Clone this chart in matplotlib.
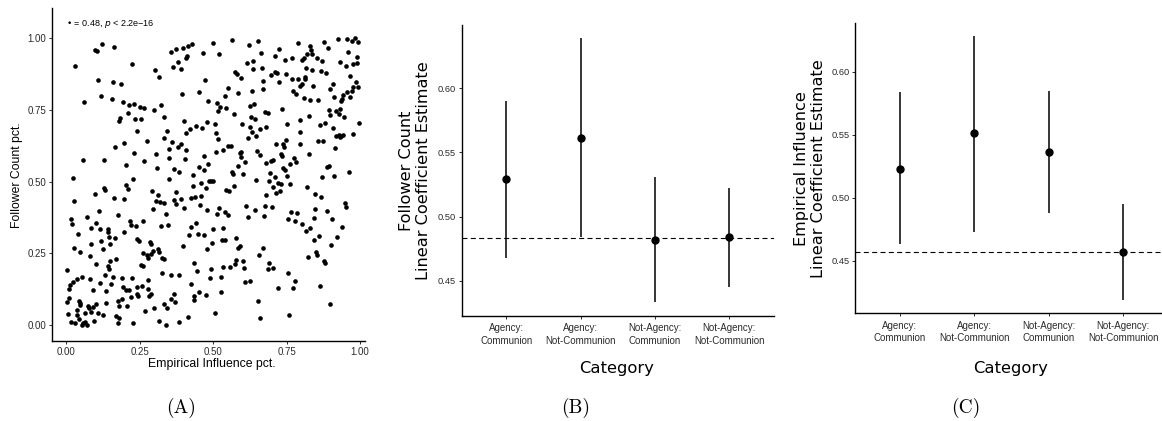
import numpy as np
import matplotlib
matplotlib.use("Agg")
import matplotlib.pyplot as plt

# ---- panel A: scatter of percentiles (by band) ----
top_band = [
    (0.121, 0.980), (0.096, 0.959), (0.104, 0.956), (0.161, 0.971), (0.031, 0.904), (0.223, 0.911),
    (0.107, 0.854), (0.158, 0.847), (0.186, 0.841), (0.059, 0.777), (0.117, 0.800), (0.155, 0.789),
    (0.193, 0.779), (0.214, 0.769), (0.231, 0.770), (0.251, 0.761), (0.266, 0.756), (0.209, 0.739),
    (0.184, 0.721), (0.178, 0.710), (0.235, 0.720), (0.253, 0.717), (0.299, 0.749), (0.323, 0.766),
    (0.334, 0.725), (0.303, 0.888), (0.316, 0.866), (0.356, 0.954), (0.373, 0.962), (0.397, 0.968),
    (0.414, 0.974), (0.427, 0.981), (0.412, 0.937), (0.408, 0.931), (0.381, 0.917), (0.362, 0.899),
    (0.391, 0.892), (0.464, 0.948), (0.473, 0.855), (0.453, 0.812), (0.393, 0.805), (0.482, 0.782),
    (0.400, 0.712), (0.480, 0.707),
    (0.501, 0.984), (0.564, 0.995), (0.621, 0.977), (0.653, 0.990), (0.520, 0.947), (0.663, 0.950),
    (0.513, 0.774), (0.524, 0.760), (0.516, 0.746), (0.543, 0.757), (0.575, 0.883), (0.582, 0.875),
    (0.593, 0.863), (0.616, 0.913), (0.636, 0.920), (0.637, 0.892), (0.666, 0.897), (0.671, 0.852),
    (0.668, 0.825), (0.632, 0.818), (0.583, 0.809), (0.551, 0.827), (0.539, 0.798), (0.624, 0.763),
    (0.639, 0.771), (0.571, 0.735), (0.629, 0.727), (0.642, 0.718), (0.675, 0.742), (0.686, 0.738),
    (0.735, 0.753), (0.506, 0.702), (0.697, 0.871), (0.709, 0.882), (0.718, 0.880), (0.723, 0.847),
    (0.711, 0.940), (0.724, 0.963), (0.745, 0.925), (0.768, 0.930), (0.789, 0.983), (0.749, 0.874),
    (0.770, 0.859), (0.789, 0.858), (0.811, 0.866), (0.813, 0.860), (0.802, 0.841), (0.797, 0.834),
    (0.772, 0.817), (0.782, 0.807), (0.810, 0.792), (0.831, 0.786), (0.857, 0.784), (0.841, 0.834),
    (0.817, 0.895), (0.837, 0.889), (0.867, 0.885), (0.883, 0.878), (0.802, 0.925), (0.808, 0.931),
    (0.820, 0.944), (0.838, 0.945), (0.833, 0.961), (0.829, 0.974), (0.854, 0.932), (0.872, 0.921),
    (0.879, 0.987), (0.891, 0.966), (0.924, 0.997), (0.955, 0.998), (0.973, 0.992), (0.984, 1.000),
    (0.993, 0.989), (0.959, 0.952), (0.991, 0.935), (0.932, 0.916), (0.952, 0.902), (0.977, 0.909),
    (0.989, 0.913), (0.965, 0.869), (0.988, 0.849), (0.992, 0.832), (0.975, 0.830), (0.972, 0.818),
    (0.956, 0.813), (0.967, 0.797), (0.943, 0.804), (0.939, 0.790), (0.934, 0.781), (0.909, 0.841),
    (0.897, 0.823), (0.911, 0.795), (0.895, 0.750), (0.899, 0.732), (0.918, 0.746), (0.932, 0.754),
    (0.927, 0.736), (0.944, 0.725), (0.880, 0.704), (0.825, 0.729), (0.797, 0.714), (0.996, 0.706),
    (0.752, 0.702),
]

mid_band = [
    (0.241, 0.678), (0.167, 0.622), (0.196, 0.636), (0.274, 0.641), (0.231, 0.601), (0.057, 0.576),
    (0.129, 0.577), (0.202, 0.558), (0.264, 0.571), (0.022, 0.513), (0.127, 0.478), (0.133, 0.470),
    (0.096, 0.457), (0.204, 0.490), (0.211, 0.475), (0.227, 0.511), (0.163, 0.443), (0.195, 0.440),
    (0.027, 0.433), (0.017, 0.369), (0.019, 0.353), (0.071, 0.376), (0.111, 0.396), (0.102, 0.357),
    (0.085, 0.340), (0.116, 0.335), (0.142, 0.336), (0.175, 0.382), (0.217, 0.364), (0.221, 0.349),
    (0.236, 0.347), (0.262, 0.362), (0.293, 0.469), (0.312, 0.454), (0.306, 0.433), (0.320, 0.430),
    (0.331, 0.427), (0.296, 0.406), (0.340, 0.386), (0.346, 0.349), (0.304, 0.596), (0.308, 0.547),
    (0.332, 0.654), (0.344, 0.677), (0.359, 0.638), (0.379, 0.620), (0.389, 0.632), (0.351, 0.614),
    (0.350, 0.582), (0.365, 0.543), (0.385, 0.533), (0.349, 0.508), (0.373, 0.463), (0.367, 0.436),
    (0.389, 0.439), (0.375, 0.422), (0.400, 0.408), (0.406, 0.670), (0.421, 0.683), (0.443, 0.693),
    (0.461, 0.686), (0.408, 0.610), (0.404, 0.578), (0.430, 0.524), (0.450, 0.550), (0.467, 0.539),
    (0.484, 0.560), (0.468, 0.588), (0.431, 0.486), (0.460, 0.496), (0.485, 0.503), (0.474, 0.477),
    (0.423, 0.443), (0.439, 0.448), (0.457, 0.449), (0.455, 0.418), (0.480, 0.400), (0.441, 0.357),
    (0.425, 0.343),
    (0.598, 0.702), (0.626, 0.692), (0.658, 0.683), (0.681, 0.690), (0.633, 0.675), (0.645, 0.660),
    (0.617, 0.652), (0.510, 0.669), (0.516, 0.649), (0.549, 0.625), (0.559, 0.625), (0.535, 0.612),
    (0.508, 0.604), (0.595, 0.605), (0.591, 0.599), (0.596, 0.586), (0.609, 0.569), (0.586, 0.556),
    (0.564, 0.533), (0.567, 0.526), (0.603, 0.528), (0.494, 0.503), (0.500, 0.504), (0.545, 0.471),
    (0.555, 0.468), (0.570, 0.486), (0.646, 0.507), (0.650, 0.607), (0.658, 0.592), (0.679, 0.564),
    (0.696, 0.571), (0.703, 0.576), (0.715, 0.632), (0.738, 0.630), (0.740, 0.620), (0.747, 0.647),
    (0.730, 0.596), (0.736, 0.591), (0.794, 0.673), (0.795, 0.631), (0.827, 0.598), (0.774, 0.584),
    (0.782, 0.567), (0.762, 0.563), (0.737, 0.546), (0.743, 0.540), (0.753, 0.521), (0.692, 0.531),
    (0.709, 0.515), (0.690, 0.502), (0.721, 0.496), (0.732, 0.493), (0.705, 0.483), (0.726, 0.467),
    (0.713, 0.462), (0.761, 0.492), (0.681, 0.453), (0.819, 0.481), (0.847, 0.457), (0.867, 0.448),
    (0.864, 0.697), (0.907, 0.688), (0.917, 0.661), (0.929, 0.663), (0.936, 0.660), (0.942, 0.664),
    (0.932, 0.655), (0.977, 0.667), (0.858, 0.643), (0.874, 0.643), (0.915, 0.617), (0.887, 0.550),
    (0.895, 0.555), (0.870, 0.515), (0.913, 0.520), (0.963, 0.534), (0.948, 0.427), (0.951, 0.411),
    (0.889, 0.399), (0.904, 0.371), (0.848, 0.404), (0.845, 0.373), (0.938, 0.343), (0.831, 0.340),
    (0.803, 0.354), (0.787, 0.390), (0.765, 0.394), (0.754, 0.370), (0.777, 0.364), (0.675, 0.415),
    (0.700, 0.412), (0.644, 0.402), (0.613, 0.416), (0.618, 0.376), (0.672, 0.379), (0.519, 0.409),
    (0.541, 0.393), (0.552, 0.382), (0.513, 0.386), (0.498, 0.336), (0.532, 0.339),
]

low_band = [
    (0.141, 0.323), (0.041, 0.318), (0.197, 0.326), (0.144, 0.306), (0.164, 0.302), (0.118, 0.292),
    (0.149, 0.282), (0.085, 0.282), (0.026, 0.268), (0.048, 0.255), (0.124, 0.265), (0.079, 0.240),
    (0.170, 0.231), (0.101, 0.212), (0.141, 0.207), (0.149, 0.222), (0.145, 0.195), (0.133, 0.175),
    (0.160, 0.169), (0.116, 0.148), (0.079, 0.159), (0.053, 0.169), (0.037, 0.159), (0.023, 0.151),
    (0.014, 0.140), (0.009, 0.125), (0.003, 0.192), (0.090, 0.121), (0.241, 0.300), (0.247, 0.293),
    (0.285, 0.289), (0.287, 0.282), (0.261, 0.251), (0.274, 0.244), (0.278, 0.235), (0.294, 0.258),
    (0.289, 0.249), (0.311, 0.265), (0.317, 0.256), (0.325, 0.233), (0.334, 0.229), (0.253, 0.210),
    (0.260, 0.205), (0.323, 0.346), (0.417, 0.314), (0.448, 0.317), (0.468, 0.314), (0.479, 0.264),
    (0.396, 0.275), (0.435, 0.215), (0.446, 0.187), (0.327, 0.183), (0.358, 0.175), (0.384, 0.175),
    (0.189, 0.163), (0.224, 0.163), (0.277, 0.157), (0.192, 0.132), (0.203, 0.121), (0.213, 0.121),
    (0.239, 0.132), (0.256, 0.135), (0.278, 0.127), (0.288, 0.109), (0.281, 0.100), (0.219, 0.098),
    (0.188, 0.091), (0.151, 0.143), (0.135, 0.119), (0.176, 0.085), (0.241, 0.107), (0.244, 0.101),
    (0.136, 0.076), (0.178, 0.065), (0.206, 0.066), (0.268, 0.048), (0.299, 0.058), (0.334, 0.074),
    (0.344, 0.058), (0.355, 0.090), (0.365, 0.109), (0.370, 0.079), (0.425, 0.143), (0.433, 0.100),
    (0.451, 0.116), (0.436, 0.087), (0.475, 0.106), (0.488, 0.163), (0.002, 0.079), (0.008, 0.093),
    (0.042, 0.084), (0.048, 0.078), (0.045, 0.070), (0.035, 0.052), (0.072, 0.067), (0.078, 0.058),
    (0.091, 0.064), (0.101, 0.073), (0.065, 0.041), (0.085, 0.044), (0.108, 0.043), (0.126, 0.035),
    (0.006, 0.039), (0.037, 0.035), (0.017, 0.012), (0.030, 0.007), (0.044, 0.021), (0.057, 0.008),
    (0.065, 0.012), (0.053, 0.000), (0.069, 0.000), (0.094, 0.014), (0.169, 0.032), (0.179, 0.025),
    (0.177, 0.006), (0.228, 0.006), (0.317, 0.014), (0.338, 0.000), (0.383, 0.012), (0.415, 0.029),
    (0.495, 0.286), (0.530, 0.295), (0.539, 0.296), (0.578, 0.305), (0.590, 0.276), (0.586, 0.270),
    (0.579, 0.228), (0.574, 0.214), (0.557, 0.201), (0.534, 0.202), (0.492, 0.194), (0.526, 0.169),
    (0.602, 0.222), (0.605, 0.197), (0.609, 0.149), (0.627, 0.154), (0.655, 0.243), (0.669, 0.270),
    (0.689, 0.217), (0.685, 0.195), (0.704, 0.198), (0.720, 0.130), (0.756, 0.183), (0.779, 0.155),
    (0.771, 0.129), (0.651, 0.084), (0.661, 0.023), (0.759, 0.034), (0.527, 0.114), (0.506, 0.043),
    (0.815, 0.329), (0.844, 0.297), (0.861, 0.311), (0.822, 0.236), (0.849, 0.254), (0.853, 0.243),
    (0.876, 0.222), (0.881, 0.217), (0.901, 0.278), (0.921, 0.308), (0.863, 0.135), (0.898, 0.072),
]

cor_r = "0.48"
cor_p = "2.2e\u221216"

# ---- panels B and C: coefficient estimates with intervals ----
categories = ["Agency:\nCommunion", "Agency:\nNot-Communion",
              "Not-Agency:\nCommunion", "Not-Agency:\nNot-Communion"]

fc_est = [0.529, 0.561, 0.482, 0.484]
fc_lo = [0.468, 0.484, 0.433, 0.445]
fc_hi = [0.590, 0.639, 0.531, 0.522]
fc_ref = 0.4835

ei_est = [0.523, 0.551, 0.536, 0.457]
ei_lo = [0.463, 0.473, 0.488, 0.419]
ei_hi = [0.584, 0.628, 0.585, 0.495]
ei_ref = 0.457

W, H = 1162, 421
TICK_COL = "#2b2b2b"

plt.rcParams['font.family'] = ['Liberation Sans', 'DejaVu Sans']
fig = plt.figure(figsize=(W / 100, H / 100), dpi=100)


def px_box(l, t, r, b):
    return [l / W, 1 - b / H, (r - l) / W, (b - t) / H]


def classic(ax):
    for s in ("top", "right"):
        ax.spines[s].set_visible(False)
    for s in ("left", "bottom"):
        ax.spines[s].set_linewidth(1.0)
    ax.tick_params(length=2.5, width=0.7, color=TICK_COL, labelcolor=TICK_COL,
                   labelsize=6.7, pad=1.5)


# panel A
axA = fig.add_axes(px_box(51.7, 8.3, 365, 341))
pts = np.array(top_band + mid_band + low_band)
axA.scatter(pts[:, 0], pts[:, 1], s=11, color="black", linewidths=0)
axA.set_xlim(-0.05, 1.017)
axA.set_ylim(-0.056, 1.105)
ticks = [0, 0.25, 0.5, 0.75, 1.0]
axA.set_xticks(ticks, ["%.2f" % t for t in ticks])
axA.set_yticks(ticks, ["%.2f" % t for t in ticks])
classic(axA)
axA.tick_params(labelsize=7.0)
axA.text(0.0, 1.05, "\u2022 = " + cor_r + ", $\\it{p}$ < " + cor_p, fontsize=6.5,
         va="center", ha="left")
fig.text(212 / W, 1 - 364 / H, "Empirical Influence pct.", fontsize=8.8,
         ha="center", va="center")
fig.text(17 / W, 1 - 175 / H, "Follower Count pct.", fontsize=8.8,
         ha="center", va="center", rotation=90)


def coef_panel(box, est, lo, hi, ref, ylab, ylab_x):
    ax = fig.add_axes(px_box(*box))
    xs = np.arange(1, len(categories) + 1)
    ax.axhline(ref, color="black", lw=0.8, ls=(0, (4.5, 3)), zorder=1)
    ax.vlines(xs, lo, hi, color="black", lw=1.1, zorder=2)
    ax.plot(xs, est, "o", color="black", ms=5, zorder=3)
    ax.set_xlim(0.4, 4.6)
    span = max(hi) - min(lo)
    ax.set_ylim(min(lo) - 0.05 * span, max(hi) + 0.05 * span)
    ax.set_yticks([0.45, 0.50, 0.55, 0.60], ["0.45", "0.50", "0.55", "0.60"])
    ax.set_xticks(xs, categories)
    classic(ax)
    ax.tick_params(axis="x", pad=3, labelsize=7.0)
    for lab in ax.get_xticklabels():
        lab.set_linespacing(1.35)
    fig.text(ylab_x / W, 1 - (box[1] + box[3]) / 2 / H, ylab, fontsize=11.6,
             family="DejaVu Sans", ha="center", va="center", rotation=90,
             linespacing=1.12)
    return ax


coef_panel((461.7, 25, 773.6, 315.7), fc_est, fc_lo, fc_hi, fc_ref,
           "Follower Count\nLinear Coefficient Estimate", 415)
coef_panel((855.3, 23.3, 1168, 313), ei_est, ei_lo, ei_hi, ei_ref,
           "Empirical Influence\nLinear Coefficient Estimate", 810)

fig.text(617 / W, 1 - 369 / H, "Category", fontsize=11.8, family="DejaVu Sans",
         ha="center", va="center")
fig.text(1011 / W, 1 - 369 / H, "Category", fontsize=11.8, family="DejaVu Sans",
         ha="center", va="center")

for lab, x in (("(A)", 181), ("(B)", 576), ("(C)", 966)):
    fig.text(x / W, 1 - 408 / H, lab, fontsize=14, family="cmr10",
             ha="center", va="center")

fig.savefig("out.png", dpi=100)
